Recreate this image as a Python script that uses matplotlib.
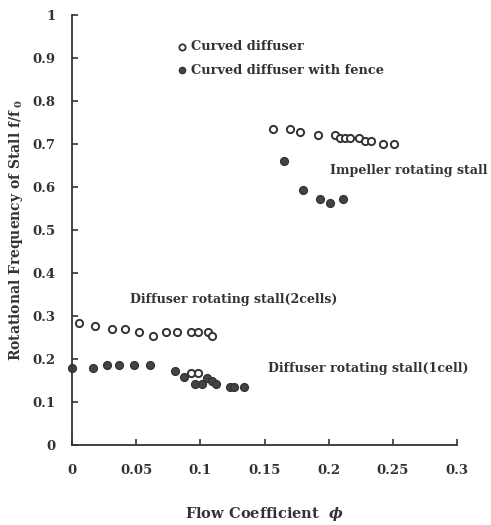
import matplotlib
matplotlib.use("Agg")
import matplotlib.pyplot as plt

# Curved diffuser (hollow markers)
curved_x = [0.0055, 0.018, 0.031, 0.041, 0.052, 0.063, 0.073, 0.0815, 0.0927, 0.098, 0.106, 0.109,
            0.093, 0.098,
            0.157, 0.170, 0.178, 0.192, 0.205, 0.209, 0.213, 0.217, 0.224, 0.228, 0.233, 0.242, 0.251]
curved_y = [0.283, 0.277, 0.269, 0.269, 0.262, 0.254, 0.262, 0.262, 0.262, 0.262, 0.262, 0.254,
            0.167, 0.167,
            0.736, 0.736, 0.729, 0.721, 0.722, 0.715, 0.715, 0.715, 0.715, 0.707, 0.707, 0.700, 0.700]

# Curved diffuser with fence (filled markers)
fence_x = [0.0, 0.016, 0.027, 0.037, 0.0485, 0.061, 0.080, 0.087, 0.096, 0.101, 0.105, 0.109, 0.112,
           0.123, 0.126, 0.134,
           0.165, 0.180, 0.193, 0.201, 0.211]
fence_y = [0.178, 0.178, 0.186, 0.186, 0.186, 0.186, 0.172, 0.157, 0.143, 0.143, 0.155, 0.149, 0.143,
           0.136, 0.136, 0.136,
           0.660, 0.593, 0.571, 0.562, 0.571]

x_ticks = [0, 0.05, 0.1, 0.15, 0.2, 0.25, 0.3]
x_tick_labels = ["0", "0.05", "0.1", "0.15", "0.2", "0.25", "0.3"]
y_ticks = [0, 0.1, 0.2, 0.3, 0.4, 0.5, 0.6, 0.7, 0.8, 0.9, 1.0]
y_tick_labels = ["0", "0.1", "0.2", "0.3", "0.4", "0.5", "0.6", "0.7", "0.8", "0.9", "1"]

plt.rcParams['font.family'] = ['DejaVu Serif']
plt.rcParams['font.weight'] = 'bold'
plt.rcParams['mathtext.fontset'] = 'custom'
plt.rcParams['mathtext.rm'] = 'DejaVu Serif:bold'
plt.rcParams['mathtext.it'] = 'DejaVu Serif:italic:bold'

ink = '#333333'
fig = plt.figure(figsize=(4.91, 5.25), dpi=100)
ax = fig.add_axes([72/491, 1-445/525, (457-72)/491, (445-15)/525])

ax.plot(curved_x, curved_y, linestyle='none', marker='o', markersize=5.2,
        markerfacecolor='white', markeredgecolor=ink, markeredgewidth=1.4, clip_on=False)
ax.plot(fence_x, fence_y, linestyle='none', marker='o', markersize=5.6,
        markerfacecolor='#444444', markeredgecolor=ink, markeredgewidth=1.0, clip_on=False)

ax.set_xlim(0, 0.3)
ax.set_ylim(0, 1)
ax.set_xticks(x_ticks)
ax.set_xticklabels(x_tick_labels)
ax.set_yticks(y_ticks)
ax.set_yticklabels(y_tick_labels)
ax.tick_params(direction='in', length=4, width=1.2, colors=ink, labelsize=9.5)
ax.tick_params(axis='x', pad=14)
ax.tick_params(axis='y', pad=12)
for lab in ax.get_xticklabels() + ax.get_yticklabels():
    lab.set_fontweight('bold')
for s in ['top', 'right']:
    ax.spines[s].set_visible(False)
for s in ['left', 'bottom']:
    ax.spines[s].set_linewidth(1.3)
    ax.spines[s].set_color(ink)

ax.set_xlabel(r"Flow Coefficient  $\phi$", fontsize=10.5, fontweight='bold', color=ink, labelpad=20)
ax.set_ylabel(r"Rotational Frequency of Stall f/f$_{\ 0}$", fontsize=10, fontweight='bold', color=ink, labelpad=5)

# legend (manual, matching reference)
ax.plot([0.0855], [0.926], linestyle='none', marker='o', markersize=4.5,
        markerfacecolor='white', markeredgecolor=ink, markeredgewidth=1.3)
ax.plot([0.0855], [0.872], linestyle='none', marker='o', markersize=4.5,
        markerfacecolor='#444444', markeredgecolor=ink)
ax.text(0.093, 0.926, "Curved diffuser", fontsize=9.4, fontweight='bold', color=ink, va='center')
ax.text(0.093, 0.872, "Curved diffuser with fence", fontsize=9.4, fontweight='bold', color=ink, va='center')

ax.text(0.201, 0.639, "Impeller rotating stall", fontsize=9.1, fontweight='bold', color=ink, va='center')
ax.text(0.045, 0.338, "Diffuser rotating stall(2cells)", fontsize=9.1, fontweight='bold', color=ink, va='center')
ax.text(0.153, 0.178, "Diffuser rotating stall(1cell)", fontsize=9.1, fontweight='bold', color=ink, va='center')

fig.savefig("out.png", dpi=100, facecolor='white')
